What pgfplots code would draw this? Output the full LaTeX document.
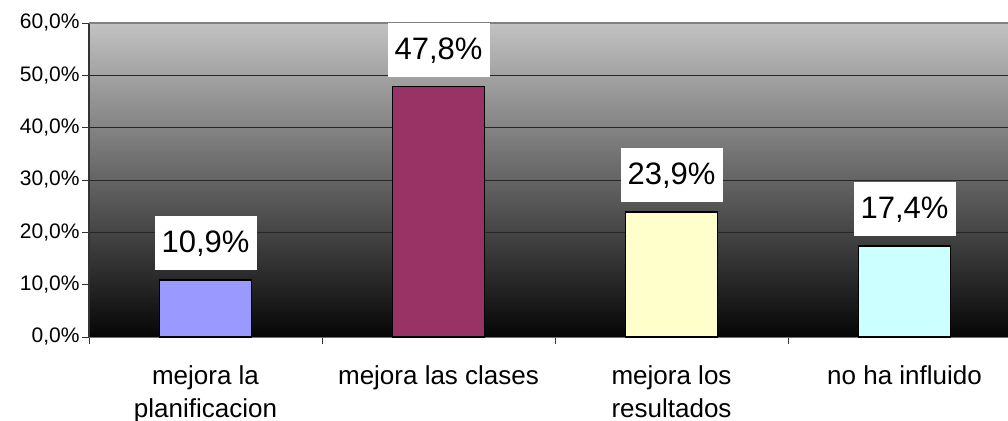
\documentclass[border=0pt]{standalone}
\usepackage{pgfplots}
\pgfplotsset{compat=1.18}
\usepackage{fontspec}
\setmainfont{Liberation Sans}
\definecolor{cA}{HTML}{9999FF}
\definecolor{cB}{HTML}{993366}
\definecolor{cC}{HTML}{FFFFCC}
\definecolor{cD}{HTML}{CCFFFF}
\definecolor{bgtop}{RGB}{194,194,194}
\definecolor{bgbot}{RGB}{6,6,6}
\begin{document}
\begin{tikzpicture}
\begin{axis}[
  at={(0,0)}, anchor=south west,
  scale only axis, width=919pt, height=314pt,
  xmin=-0.5, xmax=3.444, ymin=0, ymax=60,
  axis y line*=left, axis x line*=bottom,
  axis background/.style={shade, top color=bgtop, bottom color=bgbot},
  y axis line style={draw=black!80, line width=1.2pt},
  x axis line style={draw=black!55, line width=1pt},
  tick align=outside, major tick length=7pt,
  every tick/.style={black!80, line width=0.8pt},
  ytick={0,10,...,60},
  ymajorgrids, grid style={black!85, line width=0.8pt},
  /pgf/number format/assume math mode=true,
  yticklabel={\pgfmathprintnumber[fixed,fixed zerofill,precision=1,use comma]{\tick}\%},
  yticklabel style={font=\fontsize{21}{24}\selectfont, xshift=1pt},
  xtick={-0.5,0.5,1.5,2.5},
  xticklabels={},
  extra x ticks={0,1,2,3},
  extra x tick labels={mejora la\\planificacion, mejora las clases, mejora los\\resultados, no ha influido},
  extra x tick style={major tick length=0pt, grid=none,
     tick label style={font=\fontsize{26}{33}\selectfont, align=center, anchor=north, yshift=-25pt}},
  ybar, bar width=92pt,
  every axis plot/.append style={draw=black, line width=1.3pt, bar shift=0pt},
  nodes near coords={\pgfmathprintnumber[fixed,fixed zerofill,precision=1,use comma]{\pgfplotspointmeta}\%},
  nodes near coords style={fill=white, draw=none, font=\fontsize{31}{36}\selectfont,
     minimum width=102pt, minimum height=54pt, inner sep=0pt, anchor=south, yshift=9pt, text=black},
  clip=false,
]
\addplot[fill=cA] coordinates {(0,10.9)};
\addplot[fill=cB] coordinates {(1,47.8)};
\addplot[fill=cC] coordinates {(2,23.9)};
\addplot[fill=cD] coordinates {(3,17.4)};
\draw[black!50, line width=1.2pt] (rel axis cs:0,1) -- (rel axis cs:1,1);
\end{axis}
\pgfresetboundingbox
\path[use as bounding box] (-89pt,-83pt) rectangle (919pt,337pt);
\end{tikzpicture}
\end{document}
